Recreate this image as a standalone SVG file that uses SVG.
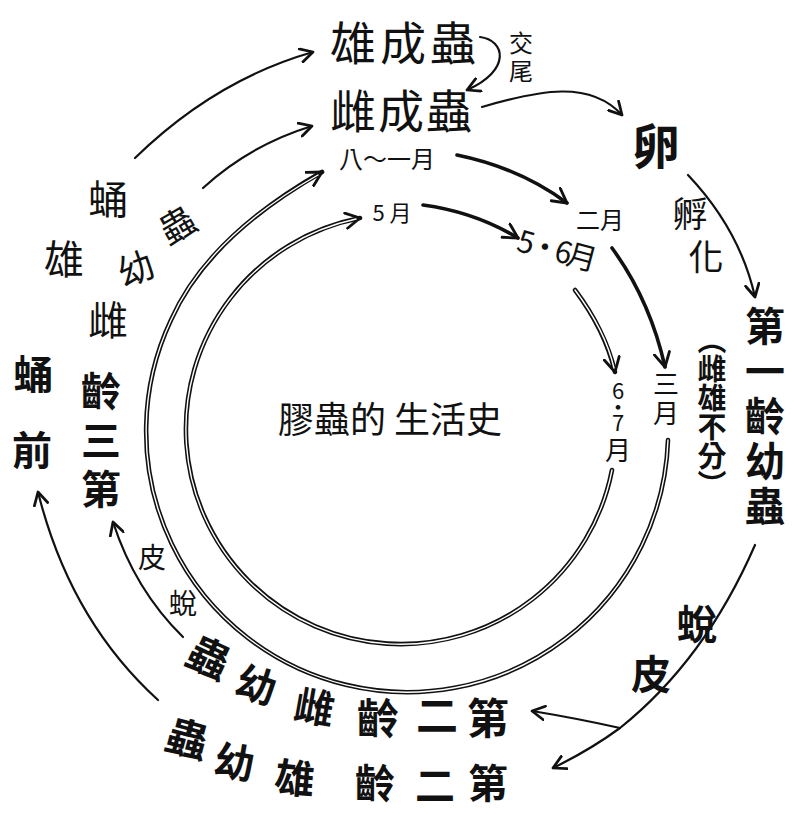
<svg xmlns="http://www.w3.org/2000/svg" width="801" height="814" viewBox="0 0 801 814">
<defs>
<style>
text{font-family:"Noto Sans CJK TC","Noto Sans CJK SC",sans-serif;fill:#111;text-anchor:middle;dominant-baseline:central}
.b{font-weight:700}
.v{writing-mode:vertical-rl}
.up{text-orientation:upright}
.ln{fill:none;stroke:#111;stroke-width:2.2;stroke-linecap:round}
.thk{fill:none;stroke:#111;stroke-width:3.6;stroke-linecap:round}
.dblA{fill:none;stroke:#111;stroke-width:4.6;stroke-linecap:round}
.dblB{fill:none;stroke:#fff;stroke-width:1.4;stroke-linecap:round}
</style>
<marker id="ah" viewBox="0 0 14 14" refX="12" refY="7" markerWidth="16" markerHeight="16" markerUnits="userSpaceOnUse" orient="auto">
<path d="M1,1 L12,7 L1,13" fill="none" stroke="#111" stroke-width="2.4" stroke-linecap="round" stroke-linejoin="round"/>
</marker>
<marker id="ah2" viewBox="0 0 14 14" refX="12" refY="7" markerWidth="18" markerHeight="18" markerUnits="userSpaceOnUse" orient="auto">
<path d="M1,1 L12,7 L1,13" fill="none" stroke="#111" stroke-width="2.2" stroke-linecap="round" stroke-linejoin="round"/>
</marker>
</defs>
<rect width="801" height="814" fill="#fff"/>

<g id="connectors">
<!-- outer ring -->
<path class="dblA" d="M668,440 A261,261 0 1 1 171,320 Q208,237 322,172" marker-end="url(#ah2)"/>
<path class="dblB" d="M668,440 A261,261 0 1 1 171,320 Q208,237 318,175"/>
<!-- inner ring -->
<path class="dblA" d="M612,470 A215,215 0 1 1 360,218" marker-end="url(#ah2)"/>
<path class="dblB" d="M612,470 A215,215 0 1 1 356,219"/>
<!-- top month arrows -->
<path class="thk" d="M457,155 Q520,168 567,203" marker-end="url(#ah2)"/>
<path class="thk" d="M423,205 Q475,212 518,238" marker-end="url(#ah2)"/>
<path class="thk" d="M612,248 Q650,300 665,367" marker-end="url(#ah2)"/>
<path class="dblA" d="M575,290 Q605,330 615,372" marker-end="url(#ah2)"/>
<path class="dblB" d="M575,290 Q605,330 614,368"/>
<!-- single arrows -->
<path class="ln" d="M135,158 Q215,80 313,52" marker-end="url(#ah)"/>
<path class="ln" d="M203,188 Q250,145 312,126" marker-end="url(#ah)"/>
<path class="ln" d="M480,37 C505,40 512,70 467,90" marker-end="url(#ah)"/>
<path class="ln" d="M482,107 C540,90 590,80 622,115" marker-end="url(#ah)"/>
<path class="ln" d="M688,175 Q740,230 755,297" marker-end="url(#ah)"/>
<path class="ln" d="M755,545 Q705,660 620,728 Q590,750 553,768" marker-end="url(#ah)"/>
<path class="ln" d="M620,728 Q575,718 532,711" marker-end="url(#ah)"/>
<path class="ln" d="M183,637 Q135,590 113,522" marker-end="url(#ah)"/>
<path class="ln" d="M158,700 Q70,620 38,492" marker-end="url(#ah)"/>
</g>

<g id="male-adult"><text x="405" y="40" font-size="46" letter-spacing="4">雄成蟲</text></g>
<g id="female-adult"><text x="402" y="108" font-size="46" letter-spacing="2">雌成蟲</text></g>
<g id="mating"><text class="v" x="521" y="59" font-size="24" letter-spacing="4">交尾</text></g>
<g id="egg"><text class="b" x="656" y="143" font-size="48">卵</text></g>
<g id="hatching"><text x="690" y="211" font-size="35">孵</text><text x="706" y="254" font-size="35">化</text></g>
<g id="first-instar">
<text class="b v" x="765" y="418" font-size="40" letter-spacing="5">第一齡幼蟲</text>
<text class="b v" x="712" y="412" font-size="29">（雌雄不分）</text>
</g>
<g id="month-8-1"><text x="387" y="157" font-size="24">八～一月</text></g>
<g id="month-2"><text x="600" y="218" font-size="24">二月</text></g>
<g id="month-3"><text class="v" x="666" y="400" font-size="26" letter-spacing="3">三月</text></g>
<g id="month-5"><text x="392" y="211" font-size="22">5 月</text></g>
<g id="month-5-6"><text x="556" y="248" font-size="30" letter-spacing="-4" transform="rotate(15 556 248)">5·6月</text></g>
<g id="month-6-7"><text class="v up" x="618" y="404" font-size="22" letter-spacing="-6">6·7</text><text x="618" y="448" font-size="26">月</text></g>
<g id="title"><text x="390" y="417" font-size="36">膠蟲的 生活史</text></g>
<g id="male-pupa"><text x="108" y="197" font-size="40">蛹</text><text x="64" y="257" font-size="40">雄</text></g>
<g id="larva-label"><text x="176" y="223" font-size="36" transform="rotate(-30 176 223)">蟲</text><text x="135" y="266" font-size="36" transform="rotate(-20 135 266)">幼</text></g>
<g id="third-instar-female">
<text x="108" y="318" font-size="40">雌</text>
<text class="b v" x="101" y="444" font-size="40" letter-spacing="9">齡三第</text>
</g>
<g id="prepupa"><text class="b" x="33" y="372" font-size="40">蛹</text><text class="b" x="32" y="448" font-size="40">前</text></g>
<g id="molt-left"><text x="152" y="556" font-size="28">皮</text><text x="183" y="602" font-size="28">蛻</text></g>
<g id="second-instar-female">
<text class="b" x="210" y="655" font-size="42" transform="rotate(25 210 655)">蟲</text>
<text class="b" x="257" y="683" font-size="40" transform="rotate(18 257 683)">幼</text>
<text class="b" x="315" y="705" font-size="40" transform="rotate(10 315 705)">雌</text>
<text class="b" x="378" y="715" font-size="42">齡</text>
<text class="b" x="437" y="712" font-size="42">二</text>
<text class="b" x="488" y="715" font-size="42">第</text>
</g>
<g id="second-instar-male">
<text class="b" x="188" y="736" font-size="42" transform="rotate(15 188 736)">蟲</text>
<text class="b" x="235" y="760" font-size="40" transform="rotate(10 235 760)">幼</text>
<text class="b" x="295" y="776" font-size="40" transform="rotate(5 295 776)">雄</text>
<text class="b" x="375" y="781" font-size="40">齡</text>
<text class="b" x="435" y="783" font-size="40">二</text>
<text class="b" x="488" y="781" font-size="40">第</text>
</g>
<g id="molt-right"><text class="b" x="697" y="622" font-size="40">蛻</text><text class="b" x="651" y="672" font-size="40">皮</text></g>
</svg>
